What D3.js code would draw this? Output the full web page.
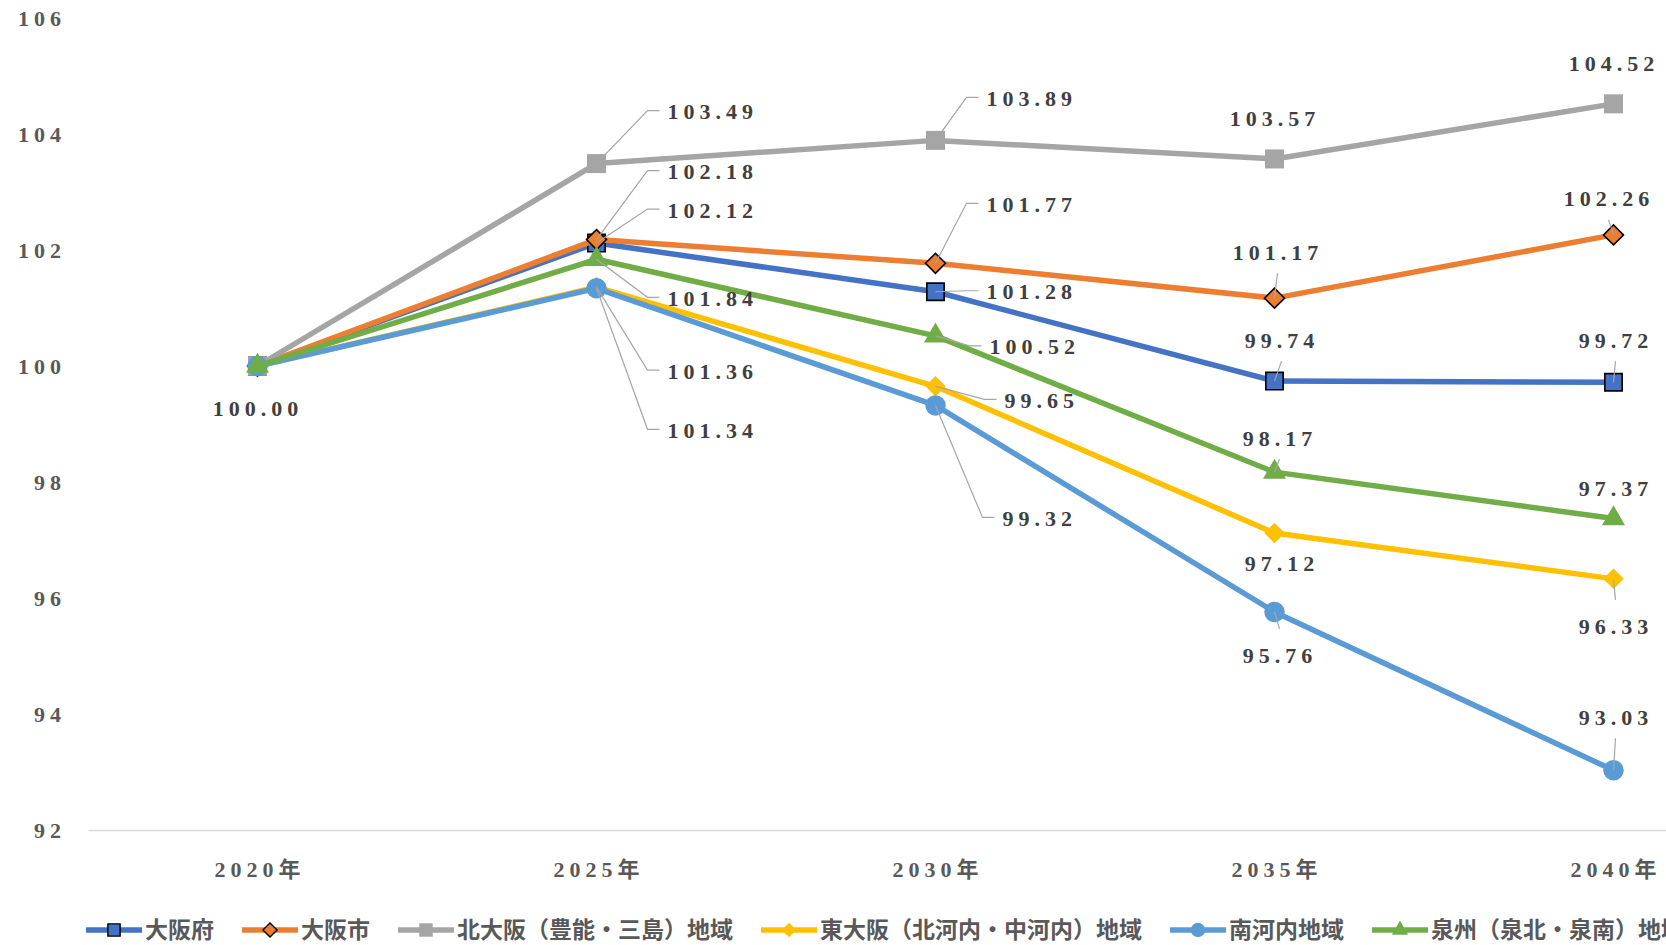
<!DOCTYPE html>
<html lang="ja">
<head>
<meta charset="utf-8">
<title>大阪府 地域別 人口指数</title>
<script src="https://cdn.jsdelivr.net/npm/d3@7"></script>
<style>
  body { margin: 0; background: #fff; }
  svg { display: block; }
</style>
</head>
<body>
<script>
// ---- data ----
var years = ["2020年", "2025年", "2030年", "2035年", "2040年"];
var seriesNames = ["大阪府", "大阪市", "北大阪（豊能・三島）地域", "東大阪（北河内・中河内）地域", "南河内地域", "泉州（泉北・泉南）地域"];
var osakaFu      = [100.00, 102.12, 101.28, 99.74, 99.72];
var osakaShi     = [100.00, 102.18, 101.77, 101.17, 102.26];
var kitaOsaka    = [100.00, 103.49, 103.89, 103.57, 104.52];
var higashiOsaka = [100.00, 101.36, 99.65, 97.12, 96.33];
var minamiKawachi= [100.00, 101.34, 99.32, 95.76, 93.03];
var senshu       = [100.00, 101.84, 100.52, 98.17, 97.37];
var yTicks = [92, 94, 96, 98, 100, 102, 104, 106];

// ---- styling ----
var colors = ["#4472C4", "#ED7D31", "#A5A5A5", "#FFC000", "#5B9BD5", "#70AD47"];
var markers = [
  { type: d3.symbolSquare, size: 300, rot: 0, stroke: "#000" },
  { type: d3.symbolSquare, size: 200, rot: 45, stroke: "#000" },
  { type: d3.symbolSquare, size: 361, rot: 0, stroke: "none" },
  { type: d3.symbolSquare, size: 210, rot: 45, stroke: "none" },
  { type: d3.symbolCircle, size: 330, rot: 0, stroke: "none" },
  { type: d3.symbolTriangle, size: 230, rot: 0, stroke: "none" }
];

// label placement relative to the marker (px): [dx, dy, kind]
// L: text to the right with elbow leader, U/D: centred above/below with leader, C: centred, no leader
var labelLayout = [
  [[-2, 42, "C"], [71, -33, "L"], [51, 0, "L"], [5, -41, "U"], [0, -42, "U"]],
  [null, [71, -68, "L"], [51, -59, "L"], [1, -46, "U"], [-7, -36, "U"]],
  [null, [71, -52, "L"], [51, -42, "L"], [-2, -40, "C"], [-2, -40, "C"]],
  [null, [71, 84, "L"], [69, 14, "L"], [5, 30, "C"], [0, 48, "D"]],
  [null, [71, 142, "L"], [67, 113, "L"], [3, 44, "D"], [0, -53, "U"]],
  [null, [71, 39, "L"], [54, 11, "L"], [3, -34, "U"], [0, -30, "C"]]
];

var w = 1666, h = 945;
var numFont = "'Liberation Serif', 'Noto Sans CJK JP', serif";
var ls = 5;

var svg = d3.select("body").append("svg")
  .attr("width", w)
  .attr("height", h);

svg.append("rect").attr("width", w).attr("height", h).attr("fill", "#fff");

var x = d3.scaleBand().domain(years).range([88, 1783]);
var cx = function(d) { return x(d) + x.bandwidth() / 2; };
var y = d3.scaleLinear().domain([92, 106]).range([830, 18]);

// y axis
var yAxis = svg.append("g")
  .attr("transform", "translate(88,0)")
  .call(d3.axisLeft(y).tickValues(yTicks).tickSize(0).tickPadding(22));
yAxis.select(".domain").remove();
yAxis.selectAll("text")
  .attr("font-family", numFont)
  .attr("font-weight", "bold")
  .attr("font-size", 22)
  .attr("letter-spacing", ls + "px")
  .attr("fill", "#595959");

// x axis
var xAxis = svg.append("g")
  .attr("transform", "translate(0,830)")
  .call(d3.axisBottom(x).tickSize(0).tickPadding(31));
xAxis.select(".domain").attr("stroke", "#D9D9D9").attr("stroke-width", 1.5);
xAxis.selectAll("text")
  .attr("dx", ls / 2)
  .attr("font-family", numFont)
  .attr("font-weight", "bold")
  .attr("font-size", 22)
  .attr("letter-spacing", ls + "px")
  .attr("fill", "#595959");

var allSeries = [osakaFu, osakaShi, kitaOsaka, higashiOsaka, minamiKawachi, senshu];
var series = allSeries.map(function(vals, i) {
  return { name: seriesNames[i], color: colors[i], marker: markers[i],
    points: vals.map(function(v, j) { return { year: years[j], value: v, lab: labelLayout[i][j] }; }) };
});

var line = d3.line()
  .x(function(d) { return cx(d.year); })
  .y(function(d) { return y(d.value); });

function symbolPath(m) {
  return d3.symbol().type(m.type).size(m.size)();
}

var plot = svg.append("g");
series.forEach(function(s) {
  var g = plot.append("g");
  g.append("path")
    .attr("d", line(s.points))
    .attr("fill", "none")
    .attr("stroke", s.color)
    .attr("stroke-width", 5.5)
    .attr("stroke-linejoin", "round");
  g.selectAll("path.mk")
    .data(s.points)
    .enter()
    .append("path")
    .attr("class", "mk")
    .attr("d", symbolPath(s.marker))
    .attr("transform", function(d) {
      return "translate(" + cx(d.year) + "," + y(d.value) + ") rotate(" + s.marker.rot + ")";
    })
    .attr("fill", s.color)
    .attr("stroke", s.marker.stroke)
    .attr("stroke-width", 1.6);
});

// data labels
var labels = svg.append("g");
series.forEach(function(s) {
  s.points.forEach(function(d) {
    if (!d.lab) return;
    var mx = cx(d.year), my = y(d.value);
    var dx = d.lab[0], dy = d.lab[1], kind = d.lab[2];
    var tx = mx + dx, ty = my + dy;
    var pts = null;
    if (kind === "L") {
      pts = [[mx, my], [tx - 20, ty - 1], [tx - 8, ty - 1]];
    } else if (kind === "U") {
      pts = [[mx, my], [tx + 2, ty + 21]];
    } else if (kind === "D") {
      pts = [[mx, my], [tx + 2, ty - 27]];
    }
    if (pts) {
      labels.append("path")
        .attr("d", d3.line()(pts))
        .attr("fill", "none")
        .attr("stroke", "#A6A6A6")
        .attr("stroke-width", 1.2);
    }
    labels.append("text")
      .attr("x", kind === "L" ? tx : tx + ls / 2)
      .attr("y", ty + 7.5)
      .attr("text-anchor", kind === "L" ? "start" : "middle")
      .attr("font-family", numFont)
      .attr("font-weight", "bold")
      .attr("font-size", 22)
      .attr("letter-spacing", ls + "px")
      .attr("fill", "#404040")
      .text(d.value.toFixed(2));
  });
});

// legend
var legend = svg.append("g");
var lx = 86, ly = 930;
series.forEach(function(s) {
  var item = legend.append("g").attr("transform", "translate(" + lx + "," + ly + ")");
  item.append("line")
    .attr("x1", 0).attr("x2", 56)
    .attr("stroke", s.color)
    .attr("stroke-width", 5.5);
  item.append("path")
    .attr("d", d3.symbol().type(s.marker.type).size(s.marker.size * 0.5)())
    .attr("transform", "translate(28,0) rotate(" + s.marker.rot + ")")
    .attr("fill", s.color)
    .attr("stroke", s.marker.stroke)
    .attr("stroke-width", 1.4);
  var t = item.append("text")
    .attr("x", 59)
    .attr("y", 8)
    .attr("font-family", "'Noto Sans CJK JP', sans-serif")
    .attr("font-weight", "bold")
    .attr("font-size", 23)
    .attr("fill", "#595959")
    .text(s.name);
  lx += 59 + t.node().getComputedTextLength() + 28;
});
</script>
</body>
</html>
